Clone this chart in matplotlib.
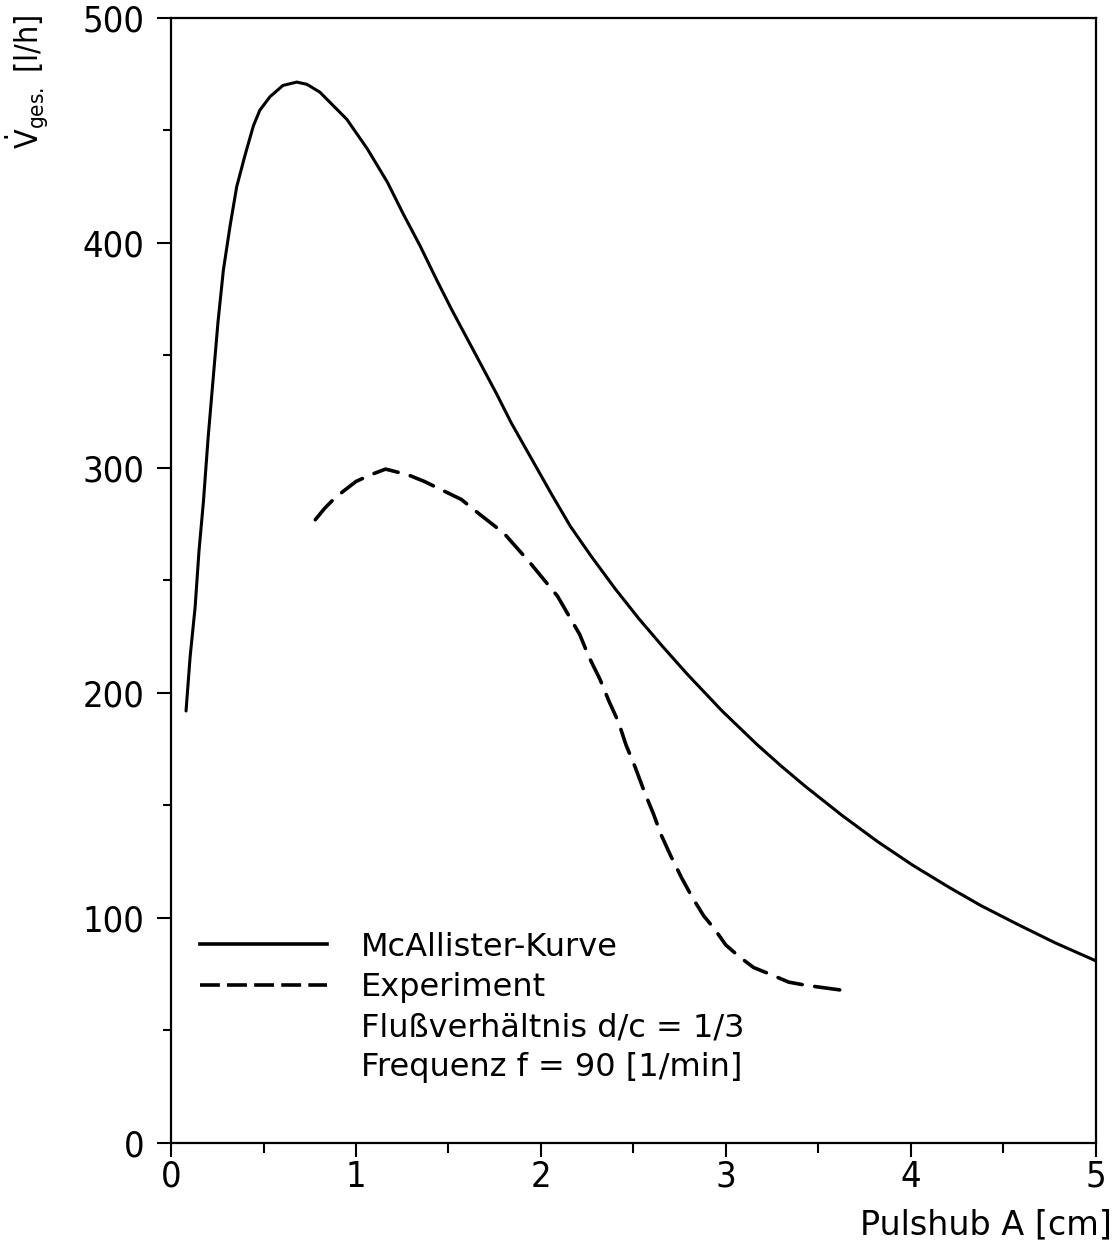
import numpy as np
import matplotlib
matplotlib.use("Agg")
import matplotlib.pyplot as plt
from matplotlib.lines import Line2D
from matplotlib.ticker import MultipleLocator

plt.rcParams['font.family'] = ['DejaVu Sans']
plt.rcParams['mathtext.default'] = 'regular'

# McAllister curve
mca_x = [0.081, 0.103, 0.13, 0.151, 0.175, 0.20, 0.229, 0.254, 0.283, 0.32, 0.355,
         0.40, 0.445, 0.48, 0.535, 0.605, 0.68, 0.735, 0.805, 0.95, 1.06, 1.17,
         1.255, 1.345, 1.44, 1.52, 1.65, 1.76, 1.84, 1.95, 2.06, 2.16, 2.27,
         2.40, 2.53, 2.66, 2.79, 2.98, 3.17, 3.30, 3.43, 3.63, 3.82, 4.01,
         4.21, 4.38, 4.57, 4.78, 5.0]
mca_y = [192, 216, 238, 263, 285, 313, 341, 365, 388, 408, 425,
         439, 452, 459, 465, 470, 471.5, 470.5, 467, 455, 442, 427,
         413, 399, 383, 370, 350, 333, 320, 304, 288, 274, 261,
         246.5, 233, 220.5, 208.5, 192, 177, 167.5, 158.5, 145.5, 134, 123.5,
         113.5, 105.5, 97.5, 89, 81]

# Experiment
exp_x = [0.78, 0.83, 0.89, 1.0, 1.08, 1.16, 1.28, 1.37, 1.47, 1.57, 1.66, 1.80,
         1.94, 2.01, 2.09, 2.21, 2.26, 2.32, 2.37, 2.42, 2.46, 2.51, 2.56, 2.61,
         2.65, 2.70, 2.76, 2.82, 2.88, 2.94, 3.0, 3.07, 3.15, 3.24, 3.34, 3.44, 3.62]
exp_y = [277, 282, 287, 294, 297, 299.5, 297, 294, 290, 286, 280, 271,
         258, 251, 243, 226, 216, 206, 196, 187, 177, 167, 156, 146,
         137, 128, 118, 109, 101, 95, 88, 83, 78, 75, 71.5, 70, 68]

legend_labels = ['McAllister-Kurve', 'Experiment',
                 'Flußverhältnis d/c = 1/3', 'Frequenz f = 90 [1/min]']

fig = plt.figure(figsize=(11.18, 12.47), dpi=100)
ax = fig.add_axes([0.153, 0.0834, 0.827, 0.9022])

ax.plot(mca_x, mca_y, color='black', lw=2.2, solid_capstyle='round',
        solid_joinstyle='round')
ax.plot(exp_x, exp_y, color='black', lw=2.6, dashes=(7, 3.5),
        dash_capstyle='round', dash_joinstyle='round')

ax.set_xlim(0, 5)
ax.set_ylim(0, 500)
ax.xaxis.set_major_locator(MultipleLocator(1))
ax.xaxis.set_minor_locator(MultipleLocator(0.5))
ax.yaxis.set_major_locator(MultipleLocator(100))
ax.yaxis.set_minor_locator(MultipleLocator(50))
ax.tick_params(which='both', direction='out', width=1.5, labelsize=26)
ax.tick_params(axis='y', which='major', length=10, pad=9)
ax.tick_params(axis='y', which='minor', length=6)
ax.tick_params(axis='x', which='major', length=10, pad=2)
ax.tick_params(axis='x', which='minor', length=7)
for lab in ax.get_xticklabels() + ax.get_yticklabels():
    lab.set_fontstretch('condensed')
for s in ax.spines.values():
    s.set_linewidth(1.6)

ax.set_ylabel(r'$\dot{V}_{ges.}$ [l/h]', fontsize=23, loc='top', fontstretch='condensed')
ax.yaxis.set_label_coords(-0.131, 1.003)
ax.set_xlabel('Pulshub A [cm]', fontsize=24, loc='right')
ax.xaxis.set_label_coords(1.018, -0.058)

handles = [Line2D([], [], color='black', lw=2.6),
           Line2D([], [], color='black', lw=2.6, dashes=(5.5, 2)),
           Line2D([], [], color='none'),
           Line2D([], [], color='none')]
ax.legend(handles, legend_labels, loc='lower left', bbox_to_anchor=(0.031, 0.053),
          frameon=False, fontsize=23, handlelength=3.98, handletextpad=1.07,
          labelspacing=0.29, borderpad=0, borderaxespad=0)

fig.savefig('out.png', dpi=100)
